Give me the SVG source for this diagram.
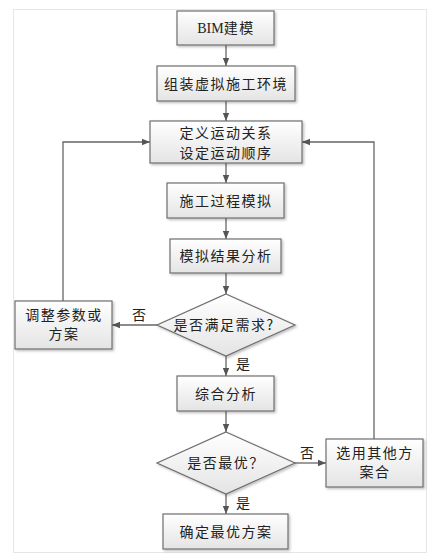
<svg xmlns="http://www.w3.org/2000/svg" width="441" height="559" viewBox="0 0 441 559">
<defs>
<linearGradient id="g" x1="0" y1="0" x2="0" y2="1">
<stop offset="0" stop-color="#ffffff"/>
<stop offset="1" stop-color="#e4e4e4"/>
</linearGradient>
<filter id="sh" x="-10%" y="-10%" width="130%" height="140%">
<feDropShadow dx="1.5" dy="1.5" stdDeviation="0.8" flood-color="#000" flood-opacity="0.25"/>
</filter>
<marker id="ar" viewBox="0 0 10 10" refX="10" refY="5" markerWidth="8" markerHeight="8" markerUnits="userSpaceOnUse" orient="auto">
<path d="M0,1 L10,5 L0,9 Z" fill="#555"/>
</marker>
<style>
.box{fill:url(#g);stroke:#6e6e6e;stroke-width:1.2;filter:url(#sh)}
.t{font-family:"Noto Sans CJK SC","Liberation Sans",sans-serif;font-size:14px;fill:#222;text-anchor:middle;letter-spacing:1.5px}
.l{font-family:"Noto Sans CJK SC","Liberation Sans",sans-serif;font-size:14px;fill:#222;text-anchor:middle}
.c{fill:none;stroke:#666;stroke-width:1.3;marker-end:url(#ar)}
</style>
</defs>
<rect x="0" y="0" width="441" height="559" fill="#fff"/>
<rect x="13.5" y="9.5" width="413" height="543" fill="#fff" stroke="#e6e6e6" stroke-width="1"/>
<g id="connectors">
<path class="c" d="M226,45 V66"/>
<path class="c" d="M226,101 V121"/>
<path class="c" d="M226,163 V183"/>
<path class="c" d="M226,218 V239"/>
<path class="c" d="M226,273 V294"/>
<path class="c" d="M157,325 H112"/>
<path class="c" d="M226,356 V376"/>
<path class="c" d="M226,411 V432"/>
<path class="c" d="M295,463 H326"/>
<path class="c" d="M226,494 V514"/>
<path class="c" d="M63,301 V142 H150"/>
<path class="c" d="M374,439 V142 H302"/>
<text class="l" x="139" y="320">否</text>
<text class="l" x="243" y="369">是</text>
<text class="l" x="307" y="458">否</text>
<text class="l" x="243" y="508">是</text>
</g>
<g id="n1"><rect class="box" x="177" y="11" width="97" height="34"/><text class="t" x="226" y="33"><tspan font-family="Liberation Serif" letter-spacing="0">BIM</tspan>建模</text></g>
<g id="n2"><rect class="box" x="157" y="66" width="138" height="35"/><text class="t" x="226" y="88.5">组装虚拟施工环境</text></g>
<g id="n3"><rect class="box" x="150" y="121" width="152" height="42"/><text class="t" x="226" y="138">定义运动关系</text><text class="t" x="226" y="158">设定运动顺序</text></g>
<g id="n4"><rect class="box" x="167" y="183" width="117" height="35"/><text class="t" x="226" y="205.5">施工过程模拟</text></g>
<g id="n5"><rect class="box" x="170" y="239" width="111" height="34"/><text class="t" x="226" y="261">模拟结果分析</text></g>
<g id="d1"><path class="box" d="M226,294 L295,325 L226,356 L157,325 Z"/><text class="t" x="224" y="330" letter-spacing="0.5">是否满足需求?</text></g>
<g id="n6"><rect class="box" x="15" y="301" width="97" height="48"/><text class="t" x="64" y="320">调整参数或</text><text class="t" x="64" y="339">方案</text></g>
<g id="n7"><rect class="box" x="177" y="376" width="97" height="35"/><text class="t" x="226" y="398.5">综合分析</text></g>
<g id="d2"><path class="box" d="M226,432 L295,463 L226,494 L157,463 Z"/><text class="t" x="226" y="468">是否最优？</text></g>
<g id="n8"><rect class="box" x="326" y="439" width="97" height="48"/><text class="t" x="375" y="458">选用其他方</text><text class="t" x="375" y="477">案合</text></g>
<g id="n9"><rect class="box" x="163" y="514" width="125" height="35"/><text class="t" x="226" y="536.5">确定最优方案</text></g>
</svg>
